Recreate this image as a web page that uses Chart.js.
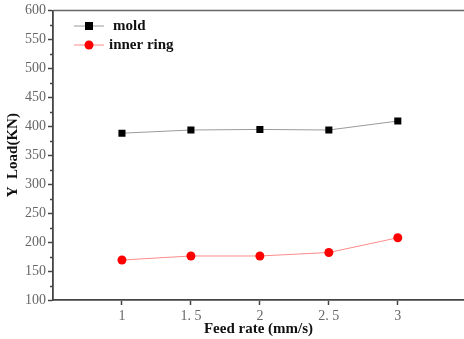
<!DOCTYPE html>
<html>
<head>
<meta charset="utf-8">
<script src="https://cdn.jsdelivr.net/npm/chart.js@4.4.1/dist/chart.umd.min.js"></script>
<style>
  html, body { margin: 0; padding: 0; background: #fff; }
  #wrap { width: 464px; height: 339px; }
</style>
</head>
<body>
<div id="wrap"><canvas id="grafik"></canvas></div>
<script>
// feed rate (mm/s) and measured Y load (KN)
var feedRate = [1, 1.5, 2, 2.5, 3];
var moldLoad = [388, 393.5, 394.5, 393.5, 409];
var innerRingLoad = [169, 176, 176, 182, 207.5];
var xTicks = [1, 1.5, 2, 2.5, 3];

function toPoints(ys) {
    return feedRate.map(function(x, i) { return { x: x, y: ys[i] }; });
}

// short minor ticks on the y axis, top frame line and the legend box
var extras = {
    id: 'extras',
    afterDraw: function(chart) {
        var ctx = chart.ctx, area = chart.chartArea, y = chart.scales.y;
        ctx.save();
        ctx.strokeStyle = '#444';
        ctx.lineWidth = 1.5;
        for (var v = 125; v < 600; v += 50) {
            var py = Math.round(y.getPixelForValue(v)) + 0.5;
            ctx.beginPath();
            ctx.moveTo(area.left - 3, py);
            ctx.lineTo(area.left, py);
            ctx.stroke();
        }
        ctx.strokeStyle = '#666';
        ctx.beginPath();
        ctx.moveTo(area.left, area.top);
        ctx.lineTo(area.right, area.top);
        ctx.stroke();

        chart.data.datasets.forEach(function(ds, i) {
            var ly = 26 + i * 19;
            ctx.strokeStyle = ds.borderColor;
            ctx.lineWidth = 1;
            ctx.beginPath();
            ctx.moveTo(74, ly);
            ctx.lineTo(104, ly);
            ctx.stroke();
            ctx.fillStyle = ds.pointBackgroundColor;
            if (ds.pointStyle === 'rect') {
                ctx.fillRect(85, ly - 4, 8, 8);
            } else {
                ctx.beginPath();
                ctx.arc(89, ly, 4.5, 0, Math.PI * 2);
                ctx.fill();
            }
            ctx.fillStyle = '#111';
            ctx.font = 'bold 15px "Liberation Serif", serif';
            ctx.textBaseline = 'middle';
            ctx.fillText(ds.label, i === 0 ? 113 : 109, ly);
        });
        ctx.restore();
    }
};

var ctx = document.getElementById('grafik').getContext('2d');
window.myLine = new Chart(ctx, {
    type: 'line',
    data: {
        datasets: [
            { label: 'mold', data: toPoints(moldLoad), borderColor: '#9a9a9a', borderWidth: 1,
              pointStyle: 'rect', pointRadius: 5, pointBackgroundColor: '#000', pointBorderWidth: 0 },
            { label: 'inner ring', data: toPoints(innerRingLoad), borderColor: '#ff8a8a', borderWidth: 1,
              pointStyle: 'circle', pointRadius: 4.5, pointBackgroundColor: '#ff0000', pointBorderWidth: 0 }
        ]
    },
    options: {
        responsive: true,
        maintainAspectRatio: false,
        animation: false,
        layout: { autoPadding: false, padding: { top: 10, right: 0, left: 0, bottom: 0 } },
        plugins: { legend: { display: false }, tooltip: { enabled: false } },
        scales: {
            x: {
                type: 'linear',
                min: 0.5,
                max: 3.48,
                afterBuildTicks: function(s) { s.ticks = xTicks.map(function(v) { return { value: v }; }); },
                afterFit: function(s) { s.height = 39; },
                grid: { drawOnChartArea: false, tickLength: 5, tickColor: '#444', tickWidth: 1.5 },
                border: { color: '#444', width: 1.8 },
                ticks: {
                    padding: 3,
                    color: '#666',
                    font: { family: '"Liberation Serif", serif', size: 14 },
                    callback: function(v) { return String(v).replace('.', '. '); }
                },
                title: {
                    display: true, text: 'Feed rate (mm/s)', color: '#111',
                    font: { family: '"Liberation Serif", serif', size: 15, weight: 'bold' },
                    padding: { top: 0, bottom: 1 }
                }
            },
            y: {
                min: 100,
                max: 600,
                afterBuildTicks: function(s) {
                    var t = [];
                    for (var v = 100; v <= 600; v += 50) t.push({ value: v });
                    s.ticks = t;
                },
                afterFit: function(s) { s.width = 53; },
                grid: { drawOnChartArea: false, tickLength: 5, tickColor: '#444', tickWidth: 1.5 },
                border: { color: '#444', width: 1.8 },
                ticks: {
                    padding: 2,
                    color: '#666',
                    font: { family: '"Liberation Serif", serif', size: 14 }
                },
                title: {
                    display: true, text: 'Y  Load(KN)', color: '#111',
                    font: { family: '"Liberation Serif", serif', size: 15, weight: 'bold' },
                    padding: { top: 4, bottom: 0 }
                }
            }
        }
    },
    plugins: [extras]
});
</script>
</body>
</html>
